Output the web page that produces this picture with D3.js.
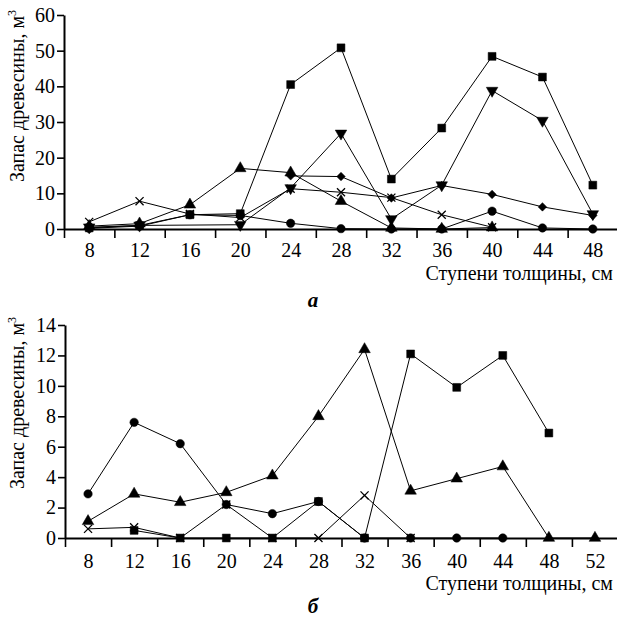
<!DOCTYPE html>
<html>
<head>
<meta charset="utf-8">
<script src="https://cdn.jsdelivr.net/npm/d3@7"></script>
<style>
  html, body { margin: 0; padding: 0; background: #fff; }
  svg { display: block; }
  text { font-family: "Liberation Serif", "Times New Roman", Tinos, "DejaVu Serif", serif; fill: #000; }
</style>
</head>
<body>
<svg id="chart" width="617" height="618"></svg>
<script>
// Diameter classes, cm
const stepsA = [8, 12, 16, 20, 24, 28, 32, 36, 40, 44, 48];
const stepsB = [8, 12, 16, 20, 24, 28, 32, 36, 40, 44, 48, 52];

// Panel "а": growing stock by species groups, m³
const squareA  = [0.3, 1.0, 4.0, 4.3, 40.5, 50.8, 14.0, 28.3, 48.4, 42.6, 12.3];
const downA    = [0.5, 1.0, null, 1.2, 11.5, 26.8, 2.8, 12.3, 38.8, 30.4, 4.2];
const upA      = [0.8, 1.5, 6.8, 17.0, 15.8, 7.8, 0.3, 0, 0.4, null, null];
const diamondA = [null, null, null, null, 14.9, 14.7, 8.7, 12.2, 9.7, 6.2, 3.8];
const crossA   = [2.0, 7.8, 4.2, 3.2, 11.3, 10.3, 8.8, 4.0, 0.5, null, null];
const circleA  = [0.2, 0.8, 4.0, 3.8, 1.6, 0.1, 0, 0, 5.0, 0.3, 0];

// Panel "б"
const squareB = [null, 0.5, 0, 0, 0, 2.4, 0, 12.1, 9.9, 12.0, 6.9, null];
const circleB = [2.9, 7.6, 6.2, 2.2, 1.6, 2.4, 0, 0, 0, 0, null, null];
const upB     = [1.1, 2.9, 2.35, 3.0, 4.1, 8.0, 12.4, 3.1, 3.9, 4.7, 0, 0];
const crossB  = [0.6, 0.7, 0, 2.2, 0, 0, 2.8, 0, null, null, null, null];

// Axis ticks and labels
const yTicksA = [0, 10, 20, 30, 40, 50, 60];
const yTicksB = [0, 2, 4, 6, 8, 10, 12, 14];
const xLabelsA = stepsA;
const xLabelsB = stepsB;
const xTicksA = [6, 10, 14, 18, 22, 26, 30, 34, 38, 42, 46, 50];
const xTicksB = [6, 10, 14, 18, 22, 26, 30, 34, 38, 42, 46, 50, 54];

const yTitle = "Запас древесины, м";
const xTitle = "Ступени толщины, см";

const svg = d3.select("#chart");

const shapes = {
  square:  { type: d3.symbolSquare,   size: 62, rotate: 0 },
  down:    { type: d3.symbolTriangle, size: 58, rotate: 180 },
  up:      { type: d3.symbolTriangle, size: 58, rotate: 0 },
  diamond: { type: d3.symbolSquare,   size: 36, rotate: 45 },
  cross:   { type: d3.symbolTimes,    size: 44, rotate: 0, stroke: true },
  circle:  { type: d3.symbolCircle,   size: 56, rotate: 0 }
};

function panel(cfg) {
  const x = d3.scaleLinear().domain(cfg.xDomain).range(cfg.xRange);
  const y = d3.scaleLinear().domain(cfg.yDomain).range(cfg.yRange);
  const g = svg.append("g");

  // series lines
  const line = d3.line().x(d => x(d.x)).y(d => y(d.y));
  cfg.series.forEach(s => {
    const pts = cfg.steps.map((v, i) => ({ x: v, y: s.values[i] })).filter(d => d.y !== null);
    g.append("path")
      .attr("d", line(pts))
      .attr("fill", "none")
      .attr("stroke", "#000")
      .attr("stroke-width", 1);
    s.pts = pts;
  });

  // axes
  const xAxis = g.append("g")
    .attr("transform", `translate(0,${cfg.yRange[0]})`)
    .call(d3.axisBottom(x).tickValues(cfg.xTicks).tickSize(9).tickSizeOuter(0).tickFormat(""));
  xAxis.select(".domain").attr("stroke-width", 2);
  xAxis.selectAll(".tick line").attr("stroke-width", 1.6);

  const xLab = g.append("g")
    .attr("transform", `translate(0,${cfg.yRange[0]})`)
    .call(d3.axisBottom(x).tickValues(cfg.xLabels).tickSize(0).tickPadding(cfg.xLabelPad).tickFormat(d3.format("d")));
  xLab.select(".domain").remove();
  xLab.selectAll("text").attr("font-size", 20);

  const yAxis = g.append("g")
    .attr("transform", `translate(${cfg.xRange[0]},0)`)
    .call(d3.axisLeft(y).tickValues(cfg.yTicks).tickSize(7).tickSizeOuter(0).tickPadding(2).tickFormat(d3.format("d")));
  yAxis.select(".domain").attr("stroke-width", 2);
  yAxis.selectAll(".tick line").attr("stroke-width", 1.6);
  yAxis.selectAll("text").attr("font-size", 20);

  // markers
  cfg.series.forEach(s => {
    const sh = shapes[s.shape];
    const sym = d3.symbol().type(sh.type).size(sh.size);
    g.append("g").selectAll("path")
      .data(s.pts)
      .join("path")
      .attr("d", sym)
      .attr("transform", d => `translate(${x(d.x)},${y(d.y)}) rotate(${sh.rotate})`)
      .attr("fill", sh.stroke ? "none" : "#000")
      .attr("stroke", "#000")
      .attr("stroke-width", sh.stroke ? 1.3 : 0.5);
  });

  // axis titles
  const yt = g.append("text")
    .attr("transform", `translate(${cfg.yTitleX},${cfg.yTitleY}) rotate(-90)`)
    .attr("text-anchor", "middle")
    .attr("font-size", 20);
  yt.append("tspan").text(yTitle);
  yt.append("tspan").text("3").attr("font-size", 12).attr("dy", -8);

  g.append("text")
    .attr("x", 613).attr("y", cfg.xTitleY)
    .attr("text-anchor", "end")
    .attr("font-size", 20)
    .text(xTitle);

  g.append("text")
    .attr("x", 313).attr("y", cfg.letterY)
    .attr("text-anchor", "middle")
    .attr("font-size", 21)
    .attr("font-weight", "bold")
    .attr("font-style", "italic")
    .text(cfg.letter);
}

panel({
  steps: stepsA,
  xDomain: [6, 50], xRange: [64, 618],
  yDomain: [0, 60], yRange: [229, 15],
  xTicks: xTicksA, xLabels: xLabelsA, yTicks: yTicksA,
  xLabelPad: 14,
  yTitleX: 24, yTitleY: 96,
  xTitleY: 280, letterY: 307, letter: "а",
  series: [
    { values: squareA, shape: "square" },
    { values: downA, shape: "down" },
    { values: upA, shape: "up" },
    { values: diamondA, shape: "diamond" },
    { values: crossA, shape: "cross" },
    { values: circleA, shape: "circle" }
  ]
});

panel({
  steps: stepsB,
  xDomain: [6, 54], xRange: [65, 618],
  yDomain: [0, 14], yRange: [538, 325],
  xTicks: xTicksB, xLabels: xLabelsB, yTicks: yTicksB,
  xLabelPad: 16,
  yTitleX: 24, yTitleY: 403,
  xTitleY: 590, letterY: 613, letter: "б",
  series: [
    { values: upB, shape: "up" },
    { values: crossB, shape: "cross" },
    { values: squareB, shape: "square" },
    { values: circleB, shape: "circle" }
  ]
});
</script>
</body>
</html>
